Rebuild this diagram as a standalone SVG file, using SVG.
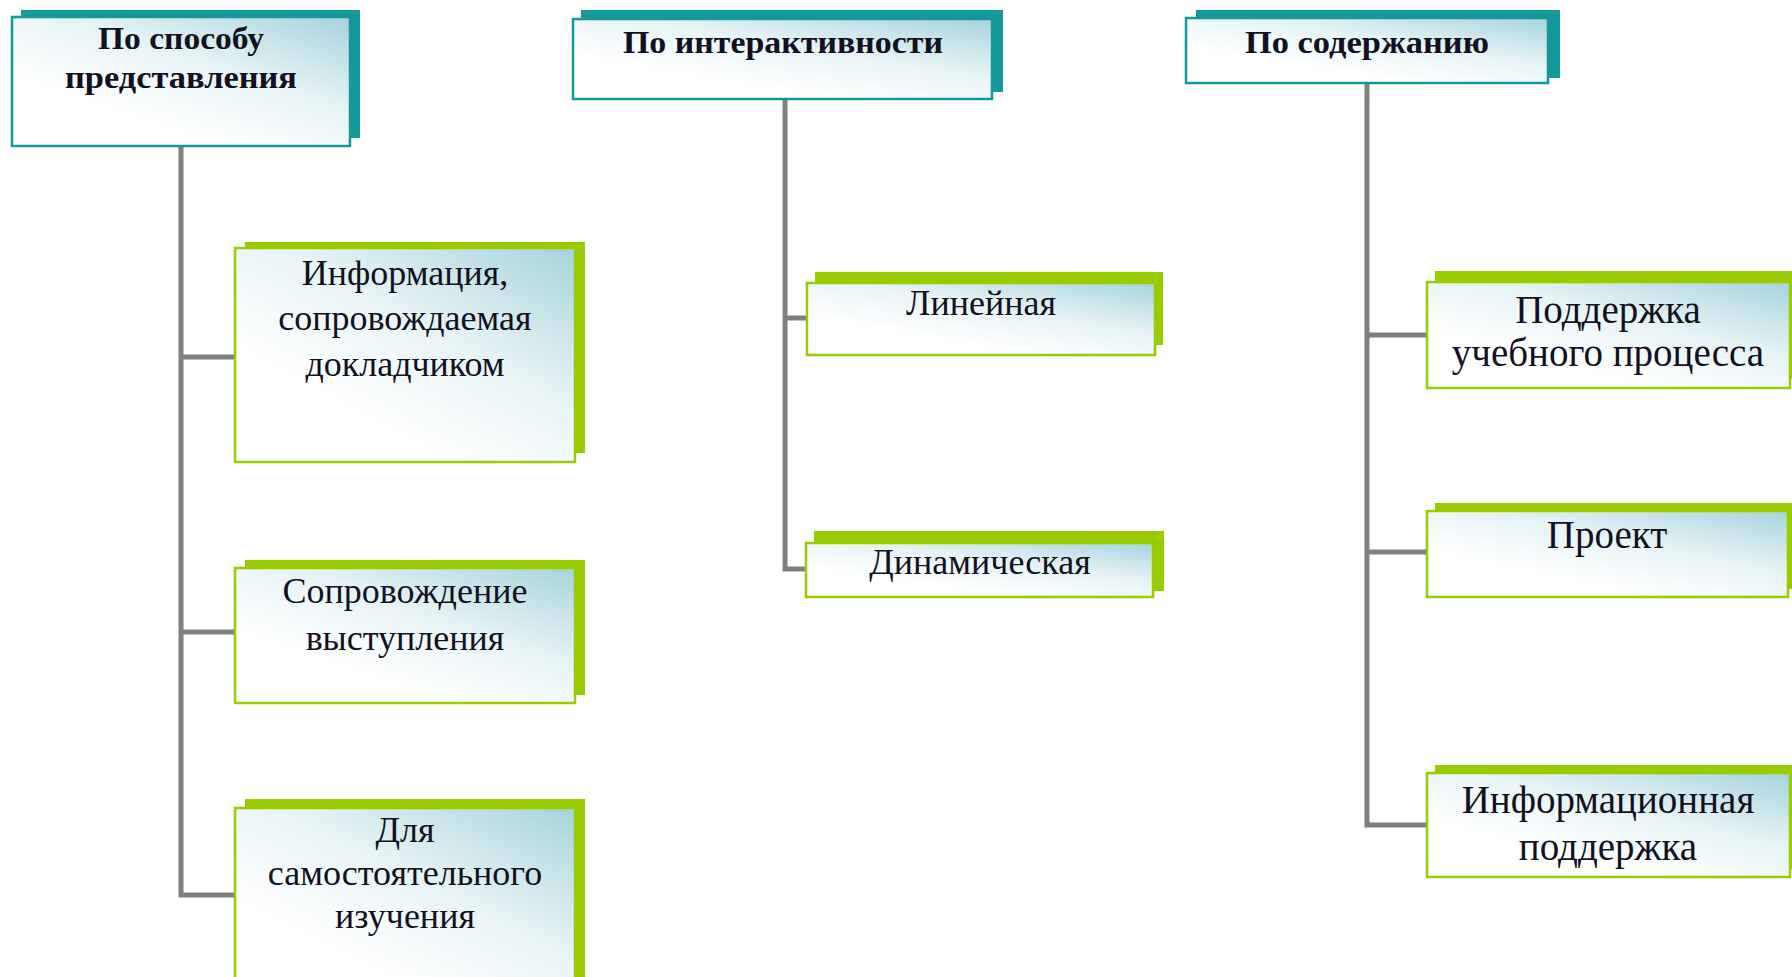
<svg xmlns="http://www.w3.org/2000/svg" width="1792" height="977" viewBox="0 0 1792 977">
<defs>
<linearGradient id="fillg" x1="1" y1="0" x2="0.35" y2="0.75">
<stop offset="0" stop-color="#a6d3db"/>
<stop offset="0.55" stop-color="#e6f3f5"/>
<stop offset="1" stop-color="#ffffff"/>
</linearGradient>
</defs>
<style>
.bg{fill:#ffffff}
.sh-t{fill:#14999a}
.fr-t{fill:url(#fillg);stroke:#14999a;stroke-width:2.5}
.sh-g{fill:#99cc00}
.fr-g{fill:url(#fillg);stroke:#99cc00;stroke-width:2.5}
.h{font-family:"Liberation Serif","Times New Roman",serif;font-weight:bold;font-size:31px;fill:#111122;text-anchor:middle}
.t1{font-family:"Liberation Serif","Times New Roman",serif;font-size:36px;fill:#111122;text-anchor:middle}
.t3{font-family:"Liberation Serif","Times New Roman",serif;font-size:39px;fill:#111122;text-anchor:middle}
.c{fill:none;stroke:#808080;stroke-width:5}
</style>
<rect class="bg" x="0" y="0" width="1792" height="977"/>

<g id="connectors">
<path class="c" d="M181 146 V895 H236 M181 357 H236 M181 632 H236"/>
<path class="c" d="M785 99 V569 H807 M785 318 H807"/>
<path class="c" d="M1367 83 V825 H1428 M1367 335 H1428 M1367 552 H1428"/>
</g>

<g id="node-sposob">
<rect class="sh-t" x="21" y="10" width="339" height="128"/>
<rect class="fr-t" x="12" y="17" width="338" height="129"/>
<text class="h" x="181" y="49" textLength="166" lengthAdjust="spacingAndGlyphs">По способу</text>
<text class="h" x="181" y="88" textLength="232" lengthAdjust="spacingAndGlyphs">представления</text>
</g>

<g id="node-interakt">
<rect class="sh-t" x="581" y="10" width="422" height="82"/>
<rect class="fr-t" x="573" y="19" width="419" height="80"/>
<text class="h" x="783" y="53" textLength="320" lengthAdjust="spacingAndGlyphs">По интерактивности</text>
</g>

<g id="node-soderzh">
<rect class="sh-t" x="1196" y="10" width="364" height="68"/>
<rect class="fr-t" x="1186" y="18" width="362" height="65"/>
<text class="h" x="1367" y="53" textLength="244" lengthAdjust="spacingAndGlyphs">По содержанию</text>
</g>

<g id="node-info-dokl">
<rect class="sh-g" x="245" y="242" width="340" height="211"/>
<rect class="fr-g" x="235" y="248" width="340" height="214"/>
<text class="t1" x="405" y="285">Информация,</text>
<text class="t1" x="405" y="330">сопровождаемая</text>
<text class="t1" x="405" y="376">докладчиком</text>
</g>

<g id="node-soprov">
<rect class="sh-g" x="245" y="560" width="340" height="135"/>
<rect class="fr-g" x="235" y="568" width="340" height="135"/>
<text class="t1" x="405" y="603">Сопровождение</text>
<text class="t1" x="405" y="650">выступления</text>
</g>

<g id="node-samost">
<rect class="sh-g" x="245" y="799" width="340" height="200"/>
<rect class="fr-g" x="235" y="808" width="340" height="200"/>
<text class="t1" x="405" y="842">Для</text>
<text class="t1" x="405" y="885">самостоятельного</text>
<text class="t1" x="405" y="928">изучения</text>
</g>

<g id="node-lineynaya">
<rect class="sh-g" x="815" y="272" width="348" height="73"/>
<rect class="fr-g" x="807" y="283" width="348" height="72"/>
<text class="t1" x="981" y="315">Линейная</text>
</g>

<g id="node-dinam">
<rect class="sh-g" x="814" y="531" width="350" height="60"/>
<rect class="fr-g" x="806" y="543" width="347" height="54"/>
<text class="t1" x="980" y="574">Динамическая</text>
</g>

<g id="node-podderzhka">
<rect class="sh-g" x="1435" y="271" width="370" height="108"/>
<rect class="fr-g" x="1427" y="282" width="363" height="106"/>
<text class="t3" x="1608" y="323">Поддержка</text>
<text class="t3" x="1608" y="366">учебного процесса</text>
</g>

<g id="node-proekt">
<rect class="sh-g" x="1435" y="503" width="370" height="86"/>
<rect class="fr-g" x="1427" y="511" width="361" height="86"/>
<text class="t3" x="1607" y="548">Проект</text>
</g>

<g id="node-info-podd">
<rect class="sh-g" x="1435" y="765" width="370" height="104"/>
<rect class="fr-g" x="1427" y="773" width="363" height="104"/>
<text class="t3" x="1608" y="813">Информационная</text>
<text class="t3" x="1608" y="860">поддержка</text>
</g>
</svg>
